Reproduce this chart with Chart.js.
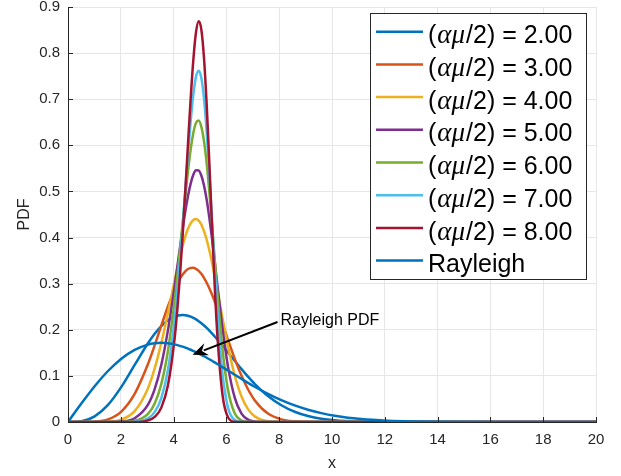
<!DOCTYPE html>
<html>
<head>
<meta charset="utf-8">
<script src="https://cdn.jsdelivr.net/npm/chart.js@4.4.1/dist/chart.umd.min.js"></script>
<style>
  html, body { margin: 0; padding: 0; background: #fff; }
</style>
</head>
<body>
<canvas id="pdfChart" width="621" height="476"></canvas>
<script>
// sample points along x, shared by every curve
const xs = [0, 0.505, 1.01, 1.515, 2.02, 2.525, 3.03, 3.283, 3.535, 3.788, 4.04, 4.141, 4.242, 4.343, 4.444, 4.545, 4.646, 4.747, 4.848, 4.949,
            5.05, 5.151, 5.252, 5.353, 5.454, 5.555, 5.656, 5.858, 6.06, 6.313, 6.565, 6.818, 7.07, 7.575, 8.08, 8.585, 9.09, 9.595, 10.1,
            11.11, 12.12, 13.13, 14.14, 16.16, 18.18, 20];

// alpha-mu PDFs, one array per (alpha*mu/2)
const pdfK2 = [0, 0.0016, 0.0122, 0.0370, 0.0761, 0.1238, 0.1709, 0.1913, 0.2081, 0.2208, 0.2288, 0.2306, 0.2316, 0.2320, 0.2315, 0.2303, 0.2284, 0.2257, 0.2226, 0.2187,
               0.2142, 0.2094, 0.2040, 0.1982, 0.1922, 0.1857, 0.1791, 0.1652, 0.1508, 0.1328, 0.1151, 0.0984, 0.0829, 0.0564, 0.0363, 0.0223, 0.0130, 0.0071, 0.0038,
               0.0009, 0.0002, 0, 0, 0, 0, 0];
const pdfK3 = [0, 0, 0.0008, 0.0058, 0.0227, 0.0610, 0.1257, 0.1662, 0.2092, 0.2510, 0.2879, 0.3004, 0.3111, 0.3200, 0.3269, 0.3317, 0.3341, 0.3343, 0.3321, 0.3278,
               0.3213, 0.3126, 0.3021, 0.2899, 0.2763, 0.2615, 0.2457, 0.2124, 0.1783, 0.1375, 0.1012, 0.0710, 0.0474, 0.0182, 0.0057, 0.0014, 0.0003, 0, 0,
               0, 0, 0, 0, 0, 0, 0];
const pdfK4 = [0, 0, 0, 0.0008, 0.0053, 0.0236, 0.0734, 0.1161, 0.1716, 0.2372, 0.3070, 0.3339, 0.3593, 0.3825, 0.4026, 0.4190, 0.4309, 0.4382, 0.4403, 0.4368,
               0.4281, 0.4141, 0.3954, 0.3725, 0.3462, 0.3173, 0.2867, 0.2236, 0.1640, 0.1015, 0.0563, 0.0278, 0.0122, 0.0016, 0.0001, 0, 0, 0, 0,
               0, 0, 0, 0, 0, 0, 0];
const pdfK5 = [0, 0, 0, 0.0001, 0.0011, 0.0080, 0.0375, 0.0711, 0.1241, 0.1997, 0.2952, 0.3368, 0.3784, 0.4191, 0.4570, 0.4901, 0.5170, 0.5361, 0.5459, 0.5455,
               0.5345, 0.5132, 0.4824, 0.4432, 0.3981, 0.3490, 0.2982, 0.2010, 0.1206, 0.0533, 0.0189, 0.0052, 0.0011, 0, 0, 0, 0, 0, 0,
               0, 0, 0, 0, 0, 0, 0];
const pdfK6 = [0, 0, 0, 0, 0.0002, 0.0026, 0.0176, 0.0400, 0.0826, 0.1551, 0.2640, 0.3170, 0.3734, 0.4321, 0.4901, 0.5440, 0.5908, 0.6269, 0.6487, 0.6538,
               0.6406, 0.6092, 0.5612, 0.4997, 0.4291, 0.3548, 0.2816, 0.1549, 0.0700, 0.0189, 0.0034, 0.0004, 0, 0, 0, 0, 0, 0, 0,
               0, 0, 0, 0, 0, 0, 0];
const pdfK7 = [0, 0, 0, 0, 0, 0.0008, 0.0078, 0.0213, 0.0519, 0.1139, 0.2238, 0.2835, 0.3513, 0.4260, 0.5042, 0.5812, 0.6522, 0.7100, 0.7486, 0.7619,
               0.7464, 0.7018, 0.6309, 0.5399, 0.4384, 0.3363, 0.2424, 0.1020, 0.0312, 0.0042, 0.0003, 0, 0, 0, 0, 0, 0, 0, 0,
               0, 0, 0, 0, 0, 0, 0];
const pdfK8 = [0, 0, 0, 0, 0, 0, 0.0034, 0.0109, 0.0312, 0.0801, 0.1822, 0.2437, 0.3181, 0.4052, 0.5019, 0.6027, 0.7006, 0.7848, 0.8448, 0.8693,
               0.8516, 0.7900, 0.6899, 0.5629, 0.4266, 0.2982, 0.1901, 0.0565, 0.0103, 0.0005, 0, 0, 0, 0, 0, 0, 0, 0, 0,
               0, 0, 0, 0, 0, 0, 0];
const rayleigh = [0, 0.0400, 0.0776, 0.1106, 0.1373, 0.1565, 0.1679, 0.1707, 0.1716, 0.1707, 0.1683, 0.1668, 0.1652, 0.1634, 0.1614, 0.1591, 0.1567, 0.1541, 0.1515, 0.1486,
                  0.1456, 0.1426, 0.1394, 0.1361, 0.1328, 0.1293, 0.1258, 0.1187, 0.1116, 0.1026, 0.0937, 0.0849, 0.0765, 0.0611, 0.0474, 0.0359, 0.0267, 0.0193, 0.0137,
                  0.0063, 0.0027, 0.0011, 0.0004, 0, 0, 0];

const kLabels = ['2.00', '3.00', '4.00', '5.00', '6.00', '7.00', '8.00'];
const kColors = ['#0072BD', '#D95319', '#EDB120', '#7E2F8E', '#77AC30', '#4DBEEE', '#A2142F'];
const rayleighColor = '#0072BD';

const xTicks = [0, 2, 4, 6, 8, 10, 12, 14, 16, 18, 20];
const yTicks = [0, 0.1, 0.2, 0.3, 0.4, 0.5, 0.6, 0.7, 0.8, 0.9];

const SANS = '"Liberation Sans", Arial, Helvetica, sans-serif';
const AXIS_COLOR = '#262626';

const kSeries = [pdfK2, pdfK3, pdfK4, pdfK5, pdfK6, pdfK7, pdfK8];
const toPoints = vals => xs.map((x, i) => ({ x, y: vals[i] }));

// later curves sit on top, like the plotting order
const datasets = kSeries.map((vals, i) => ({
    label: '(αμ/2) = ' + kLabels[i],
    data: toPoints(vals),
    borderColor: kColors[i],
    order: kSeries.length - i
}));
datasets.push({ label: 'Rayleigh', data: toPoints(rayleigh), borderColor: rayleighColor, order: 0 });

// inward ticks, boxed legend and the arrow note
const extras = {
    id: 'extras',
    afterDatasetsDraw(chart) {
        const { ctx, chartArea: a, scales: { x, y } } = chart;
        ctx.save();

        ctx.strokeStyle = AXIS_COLOR;
        ctx.lineWidth = 1;
        ctx.beginPath();
        xTicks.forEach(v => {
            const px = Math.round(x.getPixelForValue(v)) + 0.5;
            ctx.moveTo(px, a.bottom);
            ctx.lineTo(px, a.bottom - 5);
        });
        yTicks.forEach(v => {
            const py = Math.round(y.getPixelForValue(v)) + 0.5;
            ctx.moveTo(a.left, py);
            ctx.lineTo(a.left + 5, py);
        });
        ctx.stroke();

        // arrow pointing at the Rayleigh curve
        const tx = x.getPixelForValue(8.05), ty = y.getPixelForValue(0.219);
        const hx = x.getPixelForValue(4.72), hy = y.getPixelForValue(0.146);
        const sx = tx - 3, sy = ty + 1;
        const ang = Math.atan2(hy - sy, hx - sx);
        const hl = 15, hw = 6.5;
        const bx = hx - hl * Math.cos(ang), by = hy - hl * Math.sin(ang);
        ctx.strokeStyle = '#000';
        ctx.lineWidth = 2;
        ctx.beginPath();
        ctx.moveTo(sx, sy);
        ctx.lineTo(bx + 3 * Math.cos(ang), by + 3 * Math.sin(ang));
        ctx.stroke();
        ctx.fillStyle = '#000';
        ctx.beginPath();
        ctx.moveTo(hx, hy);
        ctx.lineTo(bx - hw * Math.sin(ang), by + hw * Math.cos(ang));
        ctx.lineTo(bx + 5 * Math.cos(ang), by + 5 * Math.sin(ang));
        ctx.lineTo(bx + hw * Math.sin(ang), by - hw * Math.cos(ang));
        ctx.closePath();
        ctx.fill();

        ctx.font = '16px ' + SANS;
        ctx.textBaseline = 'middle';
        ctx.textAlign = 'left';
        ctx.fillText('Rayleigh PDF', tx, ty);

        // legend box
        const lw = 216, lh = 266;
        const lx = Math.round(a.right - 10 - lw), ly = Math.round(a.top + 6);
        ctx.fillStyle = '#fff';
        ctx.fillRect(lx, ly, lw, lh);
        ctx.strokeStyle = AXIS_COLOR;
        ctx.lineWidth = 1;
        ctx.strokeRect(lx + 0.5, ly + 0.5, lw, lh);

        const rowH = 32.7;
        chart.data.datasets.forEach((ds, i) => {
            const cy = ly + 18.7 + i * rowH;
            ctx.strokeStyle = ds.borderColor;
            ctx.lineWidth = 2.5;
            ctx.beginPath();
            ctx.moveTo(lx + 6, cy);
            ctx.lineTo(lx + 53, cy);
            ctx.stroke();

            ctx.fillStyle = '#000';
            ctx.textBaseline = 'alphabetic';
            let px = lx + 58;
            const base = cy + 11.6;
            ctx.font = '25px ' + SANS;
            if (i < kLabels.length) {
                ctx.fillText('(', px, base);
                px += ctx.measureText('(').width + 1;
                ctx.font = 'italic 27px "Liberation Serif", "Times New Roman", serif';
                ctx.fillText('αμ', px, base);
                px += ctx.measureText('αμ').width + 1;
                ctx.font = '25px ' + SANS;
                ctx.fillText('/2) = ' + kLabels[i], px, base);
            } else {
                ctx.fillText(ds.label, px, base);
            }
        });
        ctx.restore();
    }
};

new Chart(document.getElementById('pdfChart'), {
    type: 'line',
    data: { datasets },
    options: {
        responsive: false,
        animation: false,
        devicePixelRatio: 1,
        layout: { padding: { top: 7, right: 25, left: 0, bottom: 0 } },
        plugins: { legend: { display: false }, tooltip: { enabled: false } },
        elements: {
            point: { radius: 0 },
            line: { borderWidth: 2.5, cubicInterpolationMode: 'monotone', fill: false }
        },
        scales: {
            x: {
                type: 'linear',
                min: 0, max: 20,
                afterBuildTicks: s => { s.ticks = xTicks.map(v => ({ value: v })); },
                afterFit: s => { s.height = 54; s.paddingLeft = 0; s.paddingRight = 0; },
                grid: { color: '#e6e6e6', drawTicks: false },
                border: { color: AXIS_COLOR, width: 1 },
                ticks: { color: AXIS_COLOR, padding: 9, maxRotation: 0, font: { family: SANS, size: 15 } },
                title: { display: true, text: 'x', color: AXIS_COLOR, padding: { top: 0, bottom: 3 }, font: { family: SANS, size: 16 } }
            },
            y: {
                type: 'linear',
                min: 0, max: 0.9,
                afterBuildTicks: s => { s.ticks = yTicks.map(v => ({ value: v })); },
                afterFit: s => { s.width = 68; s.paddingTop = 0; s.paddingBottom = 0; },
                grid: { color: '#e6e6e6', drawTicks: false },
                border: { color: AXIS_COLOR, width: 1 },
                ticks: { color: AXIS_COLOR, padding: 8, font: { family: SANS, size: 15 } },
                title: { display: true, text: 'PDF', color: AXIS_COLOR, padding: { top: 15, bottom: 0 }, font: { family: SANS, size: 16 } }
            }
        }
    },
    plugins: [extras]
});
</script>
</body>
</html>
